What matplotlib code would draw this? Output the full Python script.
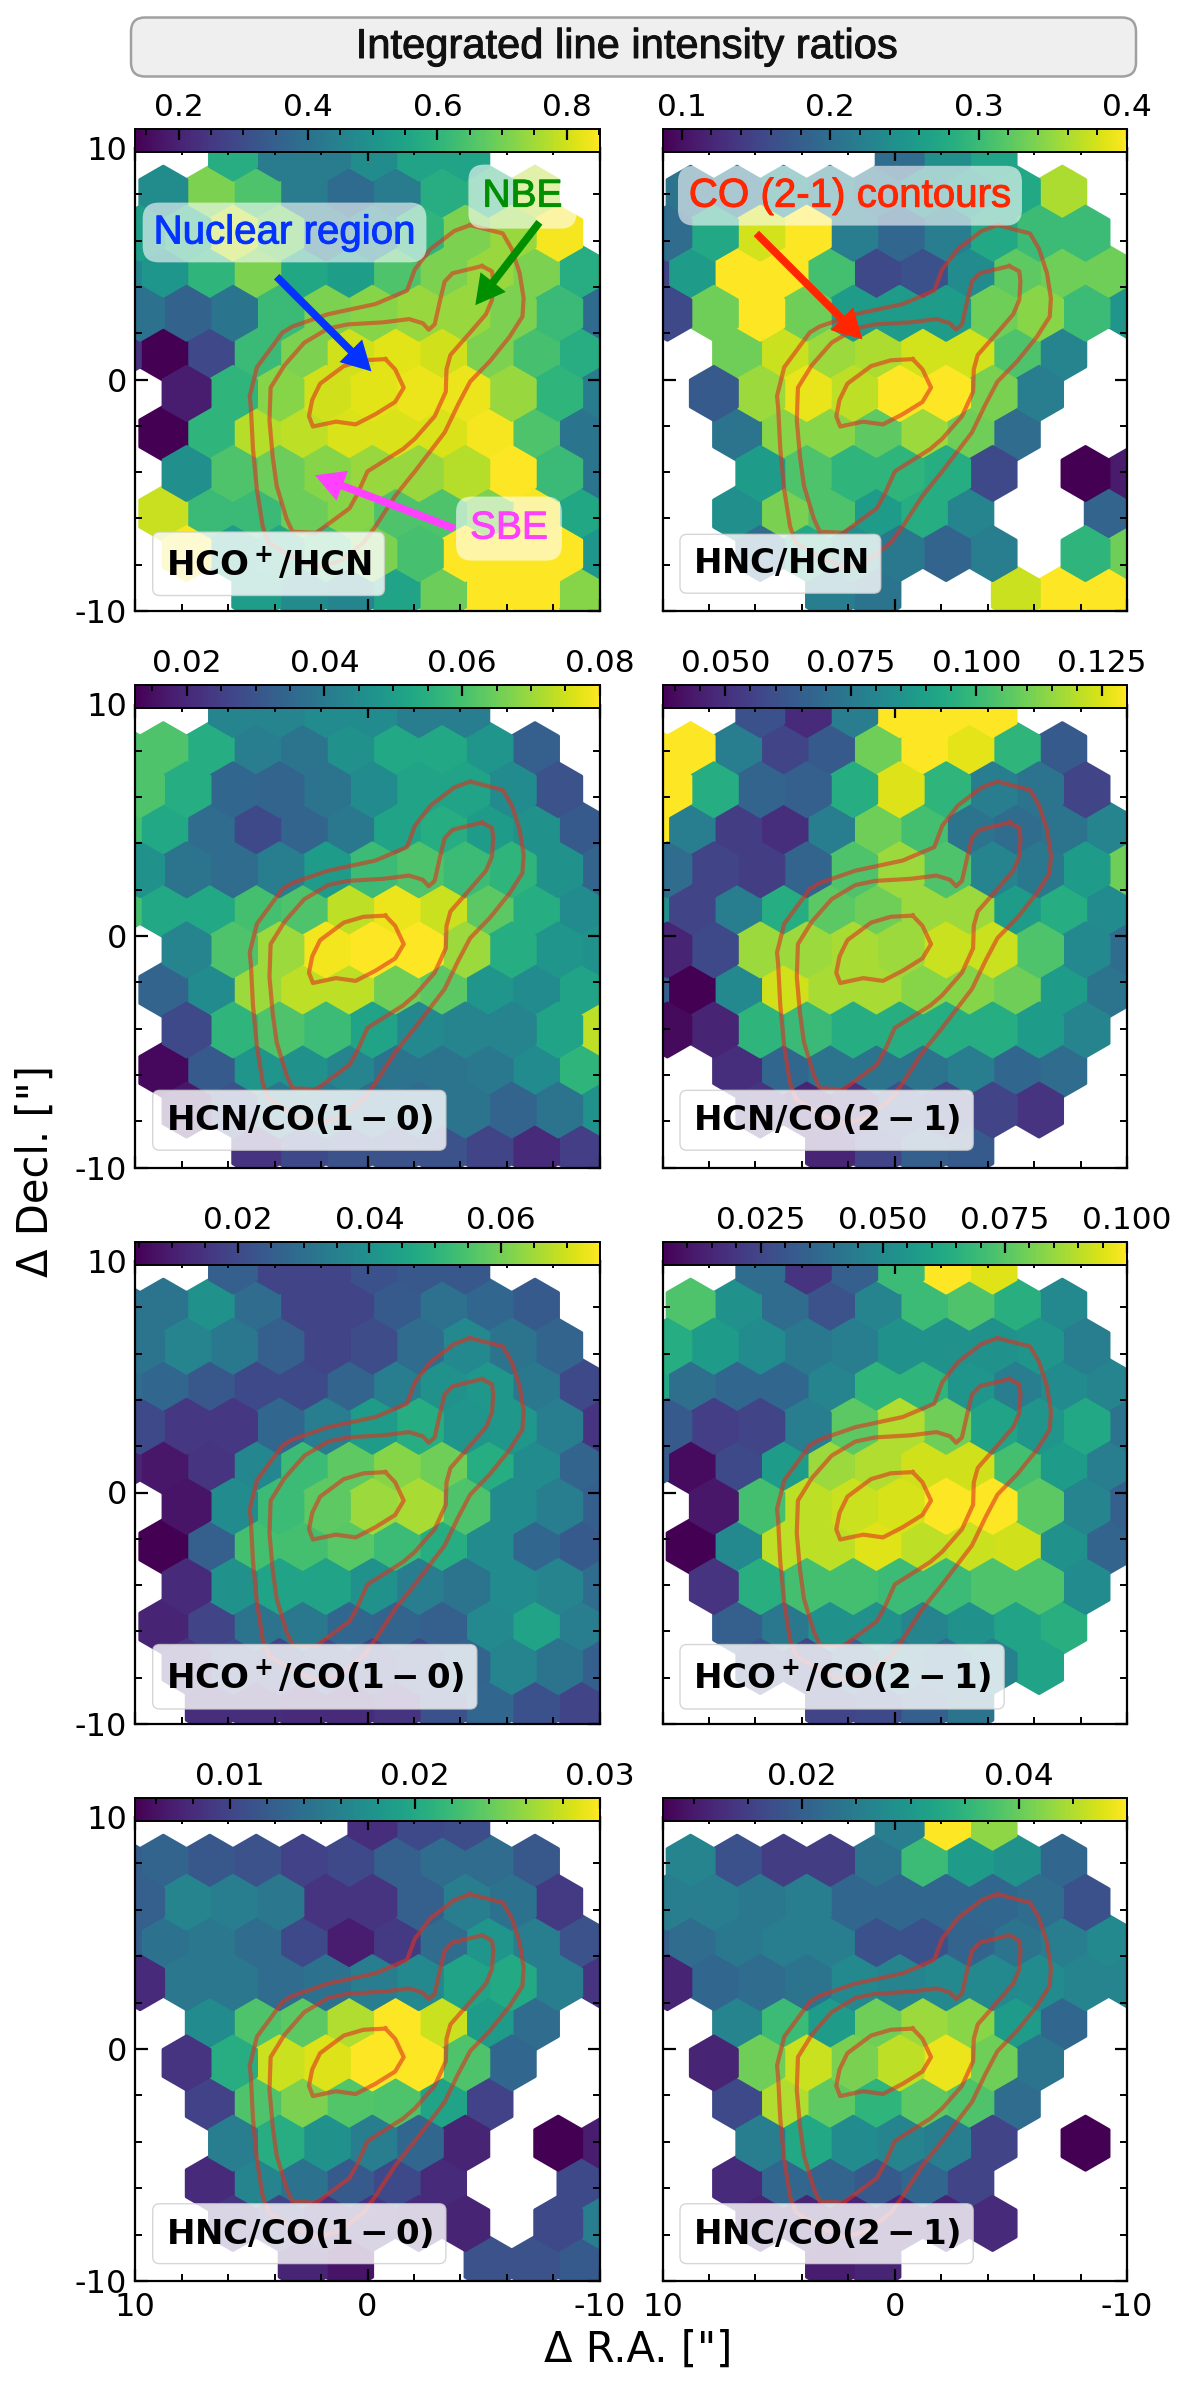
import numpy as np
import matplotlib
matplotlib.use("Agg")
import matplotlib.pyplot as plt
import matplotlib.patheffects as pe
from matplotlib.patches import FancyBboxPatch
from matplotlib.ticker import FixedLocator

na = np.nan

# hexagon lattice (arcsec), rows alternate between the two column sets
row_y = [9.78, 8.05, 6.32, 4.59, 2.86, 1.13, -0.6, -2.33, -4.06, -5.79, -7.52, -9.25]
col_a = [10.79, 8.79, 6.79, 4.79, 2.79, 0.79, -1.21, -3.21, -5.21, -7.21, -9.21]
col_b = [9.79, 7.79, 5.79, 3.79, 1.79, -0.21, -2.21, -4.21, -6.21, -8.21, -10.21]

hcop_hcn = [
    [na, na, .58, .43, .43, .48, .55, .55, na, na, na],
    [na, .48, .71, .65, .43, .38, .43, .58, .60, .77, na],
    [.53, .58, .78, .69, .43, .46, .60, .71, .74, .84, na],
    [.46, .51, .60, .71, .56, .53, .65, .71, .74, .71, .58],
    [.40, .36, .41, .62, .71, .72, .74, .74, .71, .62, .38],
    [.24, .13, .29, .62, .71, .80, .82, .80, .71, .64, .58],
    [na, .19, .60, .72, .80, .82, .83, .83, .74, .60, .43],
    [na, .13, .60, .77, .78, .81, .81, .81, .84, .65, .41],
    [na, .49, .65, .69, .72, .74, .74, .77, .85, .62, .41],
    [na, .79, .62, .62, .69, .72, .65, .65, .71, .84, .56],
    [na, .84, .53, .56, .62, .71, .64, .85, .85, .85, .51],
    [na, na, na, .53, .48, .46, .55, .69, .85, .85, .72],
]
hnc_hcn = [
    [na, na, na, na, na, .197, .243, .268, na, na, na],
    [na, .206, .212, .243, .228, .212, .243, .259, .275, .362, na],
    [.197, .275, .378, .40, .218, .19, .218, .275, .30, .30, na],
    [.15, .259, .40, .40, .306, .156, .165, .237, .322, .331, .331],
    [.156, .331, .40, .331, .259, .259, .259, .331, .344, .30, .25],
    [na, na, .331, .375, .353, .362, .378, .378, .312, .228, na],
    [na, .175, .353, .39, .369, .40, .40, .337, .218, na, na],
    [na, na, .206, .344, .344, .322, .353, .331, .197, na, na],
    [na, na, .259, .312, .29, .29, .281, .156, na, .087, .11],
    [na, na, .243, .337, .312, .259, .281, .228, na, na, .187],
    [na, na, .197, .275, .243, .212, .187, .218, na, .29, .331],
    [na, na, na, na, .218, .206, na, na, .375, .40, .40],
]
hcn_co10 = [
    [na, na, .0429, .0429, .0449, .0449, .0409, .0409, na, na, na],
    [.0611, .0611, .0544, .0409, .0382, .0463, .053, .053, .0476, .0328, na],
    [.0611, .0544, .0348, .0341, .0382, .0449, .0517, .0517, .0449, .0294, na],
    [.0598, .053, .0361, .0274, .0341, .0395, .0517, .0544, .0496, .0463, .0314],
    [.0463, .0382, .0361, .0409, .0496, .0584, .0611, .0584, .0564, .0463, .0341],
    [.0598, .053, .053, .0598, .0611, .0733, .078, .0746, .0631, .0544, .0449],
    [na, .0429, .0611, .0699, .0787, .08, .08, .0699, .0544, .0476, .0463],
    [na, .0341, .0449, .0699, .0733, .0733, .0652, .0631, .0476, .0449, .0517],
    [na, .0274, .0564, .0611, .0584, .0517, .0442, .0429, .0429, .0517, .0733],
    [na, .0139, .0314, .0476, .0463, .0429, .0382, .0382, .0395, .0449, .0564],
    [na, .0166, .0294, .0395, .0395, .0361, .0361, .0382, .0341, .0382, .0463],
    [na, na, na, .0226, .0274, .0294, .0294, .0294, .026, .0206, .0247],
]
hcn_co21 = [
    [na, na, .0606, .0486, .0763, .13, .13, .13, na, na, na],
    [.13, .13, .0763, .056, .0634, .1096, .13, .1262, .0976, .0634, na],
    [.13, .0948, .0671, .0652, .0948, .1253, .0976, .0763, .0726, .056, na],
    [.13, .0763, .0541, .0495, .0763, .1096, .1022, .0726, .0698, .0726, .0791],
    [.0698, .056, .0541, .0671, .104, .116, .104, .0791, .0745, .0883, .1096],
    [.0837, .056, .0763, .0948, .1068, .1096, .116, .116, .0883, .0948, .0819],
    [.0467, .0578, .116, .116, .1179, .116, .1225, .1225, .104, .0809, .0698],
    [.0652, .0375, .0809, .1234, .1179, .1179, .1133, .1133, .1096, .0883, .0726],
    [.04, .0467, .0976, .1003, .0948, .0948, .0948, .0948, .0883, .0791, na],
    [na, na, .0495, .068, .0726, .0726, .0726, .0763, .068, .0698, na],
    [na, na, .0514, .0467, .0514, .0606, .056, .056, .0514, na, na],
    [na, na, na, na, .0467, .056, .0652, .0634, na, na, na],
]
hcop_co10 = [
    [na, na, .0256, .0185, .0185, .022, .0235, .0235, na, na, na],
    [.0312, .0312, .0397, .0291, .0185, .0185, .0242, .0305, .0277, .0242, na],
    [.0312, .0362, .0326, .0256, .0185, .0206, .0291, .0376, .0312, .027, na],
    [.0291, .0277, .0235, .0199, .0199, .027, .034, .0397, .0418, .0326, .0199],
    [.0199, .0157, .0157, .0277, .034, .0432, .0482, .0411, .0418, .034, .015],
    [.0115, .0086, .015, .0369, .0524, .0574, .0623, .0595, .0482, .0383, .027],
    [na, .008, .0383, .0524, .0574, .0644, .0658, .0552, .0383, .034, .0256],
    [na, .0044, .0256, .0538, .0538, .0566, .0524, .0482, .0383, .0277, .0242],
    [na, .0129, .0397, .0453, .0453, .0397, .034, .0312, .0383, .0362, .0291],
    [na, .0115, .0185, .0312, .0326, .0277, .027, .0256, .0376, .0453, .034],
    [na, .015, .0199, .0185, .0199, .0185, .0199, .027, .0362, .0312, .0256],
    [na, na, .0136, .0136, .0129, .0129, .015, .022, .0277, .022, .0185],
]
hcop_co21 = [
    [na, na, .0382, .0192, .0334, .0696, .1, .0952, na, na, na],
    [na, .0734, .0525, .0382, .0287, .0477, .0696, .0734, .0648, .0496, na],
    [.0639, .0572, .0505, .043, .0448, .0525, .0525, .0525, .0544, .0448, na],
    [.062, .0391, .0363, .0363, .0477, .0667, .0667, .0544, .0448, .0505, .0477],
    [.0315, .022, .024, .0448, .0762, .0886, .0791, .06, .0544, .062, .041],
    [.0315, .0078, .0258, .0572, .0857, .0886, .0933, .0933, .0715, .0572, .0448],
    [na, .0106, .0715, .0905, .0924, .0943, .1, .1, .0762, .0477, .0334],
    [na, .0049, .0496, .0905, .0905, .0952, .0905, .0924, .0933, .0525, .0353],
    [na, .0192, .0648, .0715, .0715, .0696, .0696, .0734, .0734, .0505, na],
    [na, na, .0334, .043, .0525, .0525, .0477, .0525, .06, .0648, na],
    [na, na, .0287, .024, .0334, .043, .0382, .0458, .06, na, na],
    [na, na, na, na, .024, .0258, .0334, .041, na, na, na],
]
hnc_co10 = [
    [na, na, na, na, na, .0082, .0104, .0107, na, na, na],
    [.0124, .0129, .0117, .0112, .0099, .0104, .0124, .0137, .0137, .0117, na],
    [.0124, .0162, .0154, .0149, .0087, .0087, .0124, .0154, .0144, .0092, na],
    [.0124, .0144, .0149, .0137, .0104, .0069, .0092, .0137, .018, .0154, .0112],
    [.0079, .0149, .0149, .0137, .0144, .0154, .0167, .0195, .02, .0154, .0087],
    [na, na, .0169, .023, .0237, .027, .03, .028, .0187, .0137, na],
    [na, .0087, .0205, .028, .0287, .03, .03, .023, .0132, na, na],
    [na, na, .0099, .023, .025, .0232, .023, .0195, .0099, na, na],
    [na, na, .0154, .0205, .0175, .0154, .0132, .0074, na, .0049, .0069],
    [na, na, .0079, .0162, .0144, .0119, .0104, .0079, na, na, .0104],
    [na, na, .0087, .0099, .0087, .0087, .0079, .0074, na, .0104, .0154],
    [na, na, na, na, .0074, .0062, na, na, .0112, .0112, .0119],
]
hnc_co21 = [
    [na, na, na, na, na, .0251, .05, .0427, na, na, na],
    [na, .0264, .0178, .0148, .0148, .0234, .0363, .0307, .0286, .0213, na],
    [.0251, .0251, .0243, .0251, .0213, .0213, .0213, .0213, .0221, .0178, na],
    [.02, .0221, .0243, .0251, .0251, .0178, .0178, .0208, .0234, .0251, .0273],
    [.0114, .0213, .0221, .0234, .0273, .0264, .0273, .0273, .0277, .0264, .0264],
    [na, na, .0264, .0363, .0307, .0406, .0436, .0423, .0307, .0213, na],
    [na, .0114, .0406, .0466, .0414, .0457, .0487, .0406, .0234, na, na],
    [na, na, .0165, .0449, .0393, .035, .0393, .038, .0221, na, na],
    [na, na, .0251, .0328, .0277, .0264, .0251, .0157, na, .0071, na],
    [na, na, .0122, .0213, .0208, .0191, .0213, .0157, na, na, na],
    [na, na, .0114, .0114, .0114, .0114, .0114, .0122, na, na, na],
    [na, na, na, na, .0105, .0114, na, na, na, na, na],
]

# CO (2-1) contours, arcsec
outer_x = [-4.42, -5.82, -6.21, -6.55, -6.72, -6.67, -6.12, -5.27, -4.42, -3.91, -3.32, -2.04, -1.19, -0.34, 0.17, 1.19,
           2.21, 3.23, 4.25, 4.51, 4.76, 4.93, 5.02, 5.07, 4.76, 3.66, 3.23, 1.70, -0.34, -1.70, -2.04, -2.72, -3.74, -4.42]
outer_y = [6.67, 6.31, 5.64, 4.59, 3.51, 2.72, 1.85, 0.79, -0.09, -1.06, -2.29, -3.97, -5.03, -6.35, -7.05, -7.85,
           -8.11, -7.67, -7.05, -6.35, -4.76, -3.00, -1.23, -0.71, 0.53, 2.03, 2.29, 2.82, 3.26, 3.84, 4.76, 5.64, 6.42, 6.67]
middle_x = [-4.93, -5.36, -5.41, -5.36, -5.10, -4.42, -3.57, -3.40, -3.37, -2.89, -2.04, -1.53, 0.00, 0.43, 0.77, 1.36, 2.21, 3.23,
            3.49, 3.91, 4.08, 4.22, 4.17, 3.57, 2.72, 1.70, 0.85, -0.68, -1.79, -2.38, -2.64, -2.89, -3.15, -3.32, -3.66, -4.93]
middle_y = [4.90, 4.67, 4.23, 3.44, 2.82, 2.03, 1.06, 0.44, -0.53, -1.59, -2.56, -3.00, -3.97, -4.94, -5.56, -6.00, -6.62, -6.58,
            -6.00, -4.59, -3.35, -1.76, -0.35, 0.62, 1.59, 2.20, 2.38, 2.47, 2.61, 2.43, 2.15, 2.38, 3.53, 4.23, 4.59, 4.90]
inner_x = [-0.77, -1.19, -1.56, -1.19, -0.34, 0.51, 1.36, 2.35, 2.52, 2.38, 2.04, 1.02, 0.17, -0.77]
inner_y = [0.88, 0.44, -0.35, -0.97, -1.50, -1.94, -1.82, -2.03, -1.59, -0.88, -0.18, 0.58, 0.83, 0.88]

panel_data = [hcop_hcn, hnc_hcn, hcn_co10, hcn_co21, hcop_co10, hcop_co21, hnc_co10, hnc_co21]
panel_names = [r"$\mathbf{HCO^+/HCN}$", r"$\mathbf{HNC/HCN}$",
               r"$\mathbf{HCN/CO(1-0)}$", r"$\mathbf{HCN/CO(2-1)}$",
               r"$\mathbf{HCO^+/CO(1-0)}$", r"$\mathbf{HCO^+/CO(2-1)}$",
               r"$\mathbf{HNC/CO(1-0)}$", r"$\mathbf{HNC/CO(2-1)}$"]
vmins = [.133, .087, .0125, .0375, .0044, .0049, .0049, .0071]
vmaxs = [.851, .40, .08, .13, .075, .10, .03, .05]
cb_major = [[.2, .4, .6, .8], [.1, .2, .3, .4], [.02, .04, .06, .08], [.05, .075, .10, .125],
            [.02, .04, .06], [.025, .05, .075, .10], [.01, .02, .03], [.02, .04]]
cb_labels = [["0.2", "0.4", "0.6", "0.8"], ["0.1", "0.2", "0.3", "0.4"], ["0.02", "0.04", "0.06", "0.08"],
             ["0.050", "0.075", "0.100", "0.125"], ["0.02", "0.04", "0.06"], ["0.025", "0.050", "0.075", "0.100"],
             ["0.01", "0.02", "0.03"], ["0.02", "0.04"]]
cb_minor_step = [.05, .02, .005, .005, .005, .005, .002, .005]

W = 1200.0
H = 2388.0
left_px = [135.2, 662.5]
width_px = 464.6
top_px = [148, 704.5, 1261, 1817]
bottom_px = [611, 1167.5, 1724, 2281]
bar_top_px = [128.6, 684.6, 1241.8, 1798.4]
bar_bot_px = [151.8, 707.9, 1265, 1821.3]

plt.rcParams["font.family"] = "DejaVu Sans"
plt.rcParams["mathtext.fontset"] = "dejavusans"
fig = plt.figure(figsize=(12, 23.88), dpi=100)
axes = []

for p in range(8):
    r = p // 2
    c = p % 2
    ax = fig.add_axes([left_px[c] / W, 1 - bottom_px[r] / H, width_px / W, (bottom_px[r] - top_px[r]) / H])
    axes.append(ax)
    xs, ys, vs = [], [], []
    for i, yy in enumerate(row_y):
        cols = col_b if i % 2 == 0 else col_a
        for xx, val in zip(cols, panel_data[p][i]):
            if not np.isnan(val):
                xs.append(xx)
                ys.append(yy)
                vs.append(val)
    hb = ax.hexbin(xs, ys, C=vs, gridsize=(11, 6), extent=(-11.21, 10.79, -9.25, 11.51),
                   cmap="viridis", vmin=vmins[p], vmax=vmaxs[p], linewidths=2.5, edgecolors="face", zorder=1)
    for cx, cy in [(outer_x, outer_y), (middle_x, middle_y), (inner_x, inner_y)]:
        ax.plot(cx, cy, color="#e0301e", alpha=0.6, lw=3, zorder=2)
    ax.set_xlim(10, -10)
    ax.set_ylim(-10, 10)
    ax.set_xticks([10, 0, -10])
    ax.set_yticks([10, 0, -10])
    ax.xaxis.set_minor_locator(FixedLocator(np.arange(-10, 11, 2)))
    ax.yaxis.set_minor_locator(FixedLocator(np.arange(-10, 11, 2)))
    ax.tick_params(which="major", direction="in", top=True, right=True, length=9, width=1.6, labelsize=23)
    ax.tick_params(which="minor", direction="in", top=True, right=True, length=5, width=1.4)
    ax.tick_params(axis="y", pad=6)
    ax.tick_params(axis="x", pad=8)
    ax.set_xticklabels(["10", "0", "-10"] if r == 3 else [])
    ax.set_yticklabels(["10", "0", "-10"] if c == 0 else [])
    for s in ax.spines.values():
        s.set_linewidth(1.6)
    ax.text(0.0655, 0.102, panel_names[p], transform=ax.transAxes, fontsize=24.5, ha="left", va="center",
            color="black", zorder=6,
            bbox=dict(boxstyle="round,pad=0.38,rounding_size=0.2", fc="white", ec="0.8", alpha=0.8))

    cax = fig.add_axes([left_px[c] / W, 1 - bar_bot_px[r] / H, width_px / W, (bar_bot_px[r] - bar_top_px[r]) / H], zorder=5)
    cb = fig.colorbar(hb, cax=cax, orientation="horizontal")
    cax.xaxis.set_ticks_position("top")
    cax.set_xticks(cb_major[p])
    cax.set_xticklabels(cb_labels[p])
    step = cb_minor_step[p]
    minor = np.arange(np.ceil(vmins[p] / step) * step, vmaxs[p] + 1e-9, step)
    cax.xaxis.set_minor_locator(FixedLocator(minor))
    cax.tick_params(which="major", direction="in", length=8, width=1.6, labelsize=22.5, pad=5, top=True, bottom=False)
    cax.tick_params(which="minor", direction="in", length=4.5, width=1.4, top=True, bottom=False)
    cb.outline.set_linewidth(1.4)

# annotations
note_font = "Liberation Sans"


def note(ax, x, y, txt, col, size, pad):
    ax.text(x, y, txt, color=col, fontsize=size, family=note_font, ha="center", va="center", zorder=4,
            path_effects=[pe.withStroke(linewidth=0.7, foreground=col)],
            bbox=dict(boxstyle="round,pad=%s,rounding_size=0.4" % pad, fc="white", ec="none", alpha=0.6))


note(axes[0], 3.57, 6.35, "Nuclear region", "#0433ff", 29, 0.27)
note(axes[0], -6.67, 7.90, "NBE", "#008f00", 28, 0.36)
note(axes[0], -6.09, -6.44, "SBE", "#ff40ff", 28, 0.36)
note(axes[1], 1.93, 7.94, "CO (2-1) contours", "#ff2600", 29, 0.27)


def arrow(ax, start, tip, col):
    ax.annotate("", xy=tip, xytext=start, zorder=5,
                arrowprops=dict(facecolor=col, edgecolor="none", width=5.5, headwidth=23, headlength=21, shrink=0))


arrow(axes[0], (3.91, 4.44), (-0.17, 0.35), "#0433ff")
arrow(axes[0], (-7.40, 6.79), (-4.64, 3.21), "#008f00")
arrow(axes[0], (-3.74, -6.44), (2.26, -4.14), "#ff40ff")
arrow(axes[1], (5.96, 6.31), (1.39, 1.73), "#ff2600")

# title box, on a full figure axes in pixels
top_ax = fig.add_axes([0, 0, 1, 1], zorder=-1)
top_ax.set_xlim(0, W)
top_ax.set_ylim(H, 0)
top_ax.axis("off")
top_ax.add_patch(FancyBboxPatch((131, 17.5), 1005, 59, boxstyle="round,pad=0,rounding_size=14",
                                fc="#efefef", ec="#a0a0a0", lw=1.8))
top_ax.text(626, 47, "Integrated line intensity ratios", fontsize=30, family=note_font, ha="center", va="center",
            color="#111111", path_effects=[pe.withStroke(linewidth=0.7, foreground="#111111")])

fig.text(36 / W, 1 - 1171 / H, 'Δ Decl. ["]', fontsize=30, rotation=90, ha="center", va="center")
fig.text(638 / W, 1 - 2350 / H, 'Δ R.A. ["]', fontsize=30, ha="center", va="center")

fig.savefig("out.png", dpi=100)
